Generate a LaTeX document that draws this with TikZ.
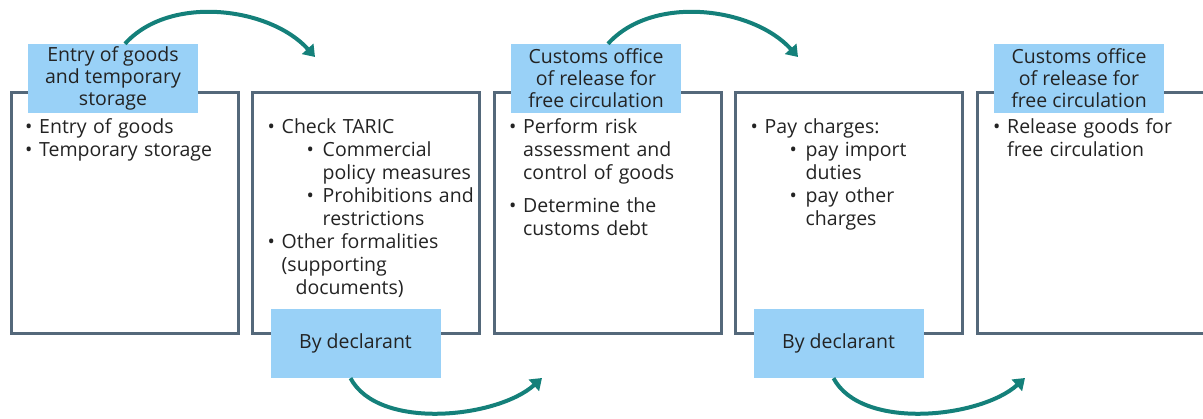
\documentclass[tikz,border=0pt]{standalone}
\usepackage{fontspec}
\setmainfont{Open Sans}
\usepackage{enumitem}
\usetikzlibrary{positioning,calc,arrows.meta}

\definecolor{frame}{RGB}{84,104,122}
\definecolor{headblue}{RGB}{153,209,247}
\definecolor{flowteal}{RGB}{20,128,122}
\definecolor{ink}{RGB}{35,35,35}

\setlist[itemize,1]{label=\makebox[14pt][l]{\textbullet}, leftmargin=29pt, labelwidth=14pt,
	labelsep=0pt, topsep=0pt, partopsep=0pt, parsep=0pt, itemsep=0pt}
\setlist[itemize,2]{label=\makebox[16pt][l]{\textbullet}, leftmargin=41pt, labelwidth=16pt,
	labelsep=0pt, topsep=0pt, partopsep=0pt, parsep=0pt, itemsep=0pt}

\tikzstyle{stage} = [rectangle, minimum width = 227pt, minimum height = 240.5pt, 
	line width = 3pt, draw = frame]
\tikzstyle{office} = [rectangle, minimum width = 170pt, minimum height = 69pt, 
	inner sep = 0pt, fill = headblue, text = ink, align = center, 
	font = \fontsize{19.5pt}{22pt}\selectfont]
\tikzstyle{tasks} = [anchor = north west, inner sep = 0pt, text width = 222pt, 
	align = left, text = ink, font = \fontsize{19.5pt}{23pt}\selectfont]
\tikzstyle{flow} = [line width = 4pt, draw = flowteal, 
	-{Triangle[length = 11pt, width = 15pt]}]

\begin{document}
\begin{tikzpicture}[x = 1pt, y = 1pt, node distance = 11.5pt]

\useasboundingbox (0,0) rectangle (1203,419);

% the five stages
\node (stage1) [stage] at (124.5,205.75) {};
\node (stage2) [stage, right = of stage1] {};
\node (stage3) [stage, right = of stage2] {};
\node (stage4) [stage, right = of stage3] {};
\node (stage5) [stage, right = of stage4] {};

% who does it
\node (office1) [office] at ($(stage1.north)+(-11.5,13)$) 
	{Entry of goods\\and temporary\\storage};
\node (office3) [office] at ($(stage3.north)+(-11.5,13)$) 
	{Customs office\\of release for\\free circulation};
\node (office5) [office] at ($(stage5.north)+(-11.5,13)$) 
	{Customs office\\of release for\\free circulation};
\node (decl2) [office] at ($(stage2.south)+(-10.5,-8.5)$) {By declarant};
\node (decl4) [office] at ($(stage4.south)+(-10.5,-8.5)$) {By declarant};

% what is done
\node (tasks1) [tasks] at ($(stage1.north west)+(0.5,-19)$) {
	\begin{itemize}
		\item Entry of goods
		\item Temporary storage
	\end{itemize}};
\node (tasks2) [tasks] at ($(stage2.north west)+(1.5,-19)$) {
	\begin{itemize}
		\item Check TARIC
		\begin{itemize}
			\item Commercial\newline policy measures
			\item Prohibitions and\newline restrictions
		\end{itemize}
		\item Other formalities\newline (supporting\newline\hspace*{14pt}documents)
	\end{itemize}};
\node (tasks3) [tasks] at ($(stage3.north west)+(1.5,-19)$) {
	\begin{itemize}[itemsep = 10pt]
		\item Perform risk\newline assessment and\newline control of goods
		\item Determine the\newline customs debt
	\end{itemize}};
\node (tasks4) [tasks] at ($(stage4.north west)+(1.5,-19)$) {
	\begin{itemize}
		\item Pay charges:
		\begin{itemize}
			\item pay import\newline duties
			\item pay other\newline charges
		\end{itemize}
	\end{itemize}};
\node (tasks5) [tasks] at ($(stage5.north west)+(2.5,-19)$) {
	\begin{itemize}
		\item Release goods for\newline free circulation
	\end{itemize}};

% arcs between the stages
\coordinate (from1) at ($(office1.north)+(12,0)$);
\coordinate (from2) at ($(decl2.south)+(-5,0)$);
\coordinate (from3) at ($(office3.north)+(12,0)$);
\coordinate (from4) at ($(decl4.south)+(-5,0)$);
\coordinate (land2) at ($(stage2.north west)+(64,34.5)$);
\coordinate (land3) at ($(stage3.south west)+(49.5,-43)$);
\coordinate (land4) at ($(stage4.north west)+(64,34.5)$);
\coordinate (land5) at ($(stage5.south west)+(49.5,-43)$);

\draw [flow] (from1) to [out = 48, in = 132, looseness = 0.9] (land2);
\draw [flow] (from2) to [out = -62, in = -138, looseness = 0.8] (land3);
\draw [flow] (from3) to [out = 48, in = 132, looseness = 0.9] (land4);
\draw [flow] (from4) to [out = -62, in = -138, looseness = 0.8] (land5);

\end{tikzpicture}
\end{document}
